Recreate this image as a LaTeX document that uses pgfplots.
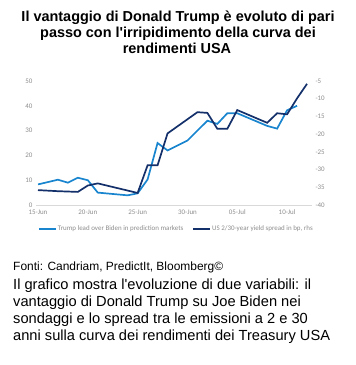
\documentclass[border=0pt]{standalone}
\usepackage{pgfplots}
\pgfplotsset{compat=1.18}
\usepackage{fontspec}
\setmainfont{Liberation Sans}
\newfontfamily\carlito{Carlito}
\definecolor{trumpblue}{HTML}{1A85CF}
\definecolor{navy}{HTML}{14306A}
\definecolor{ticgray}{HTML}{8C8C8C}
\definecolor{axgray}{HTML}{D9D9D9}
\begin{document}
\begin{tikzpicture}
\useasboundingbox (0,0) rectangle (356bp,-365bp);
% title
\node[anchor=base,inner sep=0,font=\bfseries\fontsize{14.5}{16}\selectfont] at (178bp,-21bp) {Il vantaggio di Donald Trump è evoluto di pari};
\node[anchor=base,inner sep=0,font=\bfseries\fontsize{14.5}{16}\selectfont] at (178bp,-37bp) {passo con l\textquotesingle irripidimento della curva dei};
\node[anchor=base,inner sep=0,font=\bfseries\fontsize{14.5}{16}\selectfont] at (177bp,-53bp) {rendimenti USA};
% left axis
\begin{axis}[
  at={(36bp,-205bp)}, anchor=south west,
  scale only axis, width=276bp, height=124bp,
  xmin=-0.2, xmax=27.5, ymin=0, ymax=50,
  axis x line*=bottom, axis y line*=left,
  x axis line style={draw=axgray, line width=0.8bp, -},
  y axis line style={draw=none},
  tick style={draw=none},
  xtick={0,5,10,15,20,25},
  xticklabels={15-Jun,20-Jun,25-Jun,30-Jun,05-Jul,10-Jul},
  ytick={0,10,20,30,40,50},
  tick label style={font=\carlito\fontsize{7}{8}\selectfont, text=ticgray},
  /pgf/number format/assume math mode=true,
  xticklabel style={yshift=-1bp},
  legend style={at={(0.507,-0.194)}, anchor=center, draw=none, fill=none,
    font=\carlito\fontsize{7}{8}\selectfont, text=ticgray,
    legend columns=2, /tikz/every even column/.append style={column sep=8bp},
    inner sep=0pt, nodes={inner sep=1bp}},
  legend image code/.code={\draw[#1] (0bp,0bp) -- (17bp,0bp);},
]
\addplot[trumpblue, line width=1.7bp] coordinates {
(0,8.3)(2,10.2)(3,9)(4,11)(5,10)(6,5)(9,3.9)(10,4.7)(11,10.3)(12,25)(13,22)(15,26)(17,34)(18,32.7)(19,37)(20,37)(23,31.9)(24,30.8)(25,38.2)(26,40)
};
\addlegendentry{Trump lead over Biden in prediction markets}
\addlegendimage{navy, line width=1.7bp}
\addlegendentry{US 2/30-year yield spread in bp, rhs}
\end{axis}
% right axis
\begin{axis}[
  at={(36bp,-205bp)}, anchor=south west,
  scale only axis, width=276bp, height=124bp,
  xmin=-0.2, xmax=27.5, ymin=-40, ymax=-5,
  axis x line=none, axis y line*=right,
  y axis line style={draw=none},
  tick style={draw=none},
  ytick={-40,-35,-30,-25,-20,-15,-10,-5},
  tick label style={font=\carlito\fontsize{7}{8}\selectfont, text=ticgray},
  /pgf/number format/assume math mode=true,
]
\addplot[navy, line width=1.7bp] coordinates {
(0,-35.8)(2,-36.1)(4,-36.3)(5,-34.5)(6,-33.9)(10,-36.6)(11,-28.8)(12,-28.8)(13,-19.8)(16,-13.8)(17,-14.0)(18,-18.5)(19,-18.5)(20,-13.2)(23,-16.8)(24,-14.1)(25,-14.4)(26,-9.9)(27,-5.8)
};
\end{axis}
% sources and description
\node[anchor=base west,inner sep=0,font=\fontsize{12}{14}\selectfont] at (13bp,-270bp) {Fonti: Candriam, PredictIt, Bloomberg©};
\node[anchor=base west,inner sep=0,font=\fontsize{14.7}{17}\selectfont] at (13bp,-289bp) {Il grafico mostra l\textquotesingle evoluzione di due variabili: il};
\node[anchor=base west,inner sep=0,font=\fontsize{14.7}{17}\selectfont] at (13bp,-306bp) {vantaggio di Donald Trump su Joe Biden nei};
\node[anchor=base west,inner sep=0,font=\fontsize{14.7}{17}\selectfont] at (13bp,-323bp) {sondaggi e lo spread tra le emissioni a 2 e 30};
\node[anchor=base west,inner sep=0,font=\fontsize{14.7}{17}\selectfont] at (13bp,-340bp) {anni sulla curva dei rendimenti dei Treasury USA};
\end{tikzpicture}
\end{document}
